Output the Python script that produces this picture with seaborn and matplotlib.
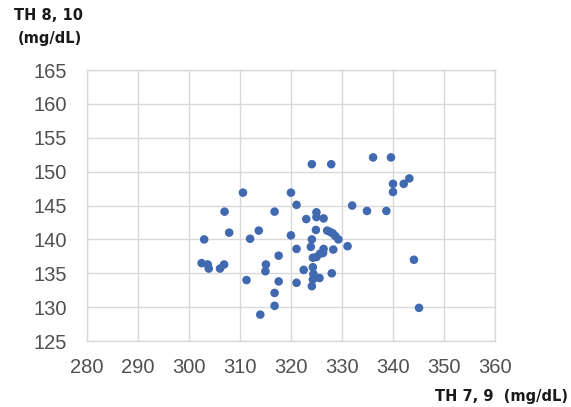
import matplotlib
matplotlib.use("Agg")
import matplotlib.pyplot as plt
import seaborn as sns
import pandas as pd

th79 = [303.0, 302.5, 303.7, 303.9, 306.1, 306.9, 307.0, 307.9, 310.6, 311.3,
        312.0, 313.7, 314.0, 315.1, 315.0, 316.8, 316.8, 316.8, 317.6, 317.6,
        320.0, 320.0, 321.1, 321.1, 321.1, 322.5, 323.0, 324.1, 324.1, 323.9,
        325.0, 325.0, 324.9, 324.3, 325.0, 324.3, 324.4, 324.3, 324.1, 325.6,
        325.7, 326.4, 326.3, 326.4, 327.9, 327.1, 327.7, 328.2, 328.7, 329.3,
        328.3, 328.0, 331.1, 332.0, 334.9, 336.1, 338.7, 339.6, 340.0, 340.0,
        342.1, 343.2, 344.1, 345.1]
th810 = [140.0, 136.5, 136.3, 135.7, 135.7, 136.3, 144.1, 141.0, 146.9, 134.0,
         140.1, 141.3, 128.9, 136.3, 135.3, 144.1, 132.1, 130.2, 137.6, 133.8,
         140.6, 146.9, 145.1, 138.6, 133.6, 135.5, 143.0, 151.1, 140.0, 138.9,
         144.0, 143.3, 141.4, 137.3, 137.4, 135.9, 134.9, 134.1, 133.1, 134.3,
         137.9, 138.6, 138.0, 143.1, 151.1, 141.3, 141.1, 140.9, 140.5, 140.0,
         138.5, 135.0, 139.0, 145.0, 144.2, 152.1, 144.2, 152.1, 148.2, 147.0,
         148.2, 149.0, 137.0, 129.9]
x_ticks = [280, 290, 300, 310, 320, 330, 340, 350, 360]
y_ticks = [125, 130, 135, 140, 145, 150, 155, 160, 165]

df = pd.DataFrame({"x": th79, "y": th810})

sns.set_style("white")
plt.rcParams["font.family"] = ["Liberation Sans", "DejaVu Sans"]

fig = plt.figure(figsize=(5.71, 4.07), dpi=100)
ax = fig.add_axes([0.152, 0.162, 0.715, 0.666])

sns.scatterplot(data=df, x="x", y="y", ax=ax, color="#4169b0", s=38,
                edgecolor="none", zorder=3, legend=False)

ax.set_xlim(280, 360)
ax.set_ylim(125, 165)
ax.set_xticks(x_ticks)
ax.set_yticks(y_ticks)
ax.set_xticklabels([str(v) for v in x_ticks])
ax.set_yticklabels([str(v) for v in y_ticks])
ax.grid(True, color="#d9d9d9", linewidth=1.0, zorder=0)
ax.set_axisbelow(True)
for s in ax.spines.values():
    s.set_color("#d9d9d9")
    s.set_linewidth(1.0)
ax.tick_params(axis="both", length=0, labelsize=14.5, labelcolor="#505050")
ax.tick_params(axis="x", pad=12)
ax.tick_params(axis="y", pad=14)
ax.set_xlabel("")
ax.set_ylabel("")

title_font = dict(family="DejaVu Sans", fontsize=10.5, fontweight="bold", color="#1a1a1a")
fig.text(0.024, 0.963, "TH 8, 10", ha="left", va="center", **title_font)
fig.text(0.031, 0.905, "(mg/dL)", ha="left", va="center", **title_font)
fig.text(0.995, 0.025, "TH 7, 9  (mg/dL)", ha="right", va="center", **title_font)

fig.savefig("out.png", dpi=100)
